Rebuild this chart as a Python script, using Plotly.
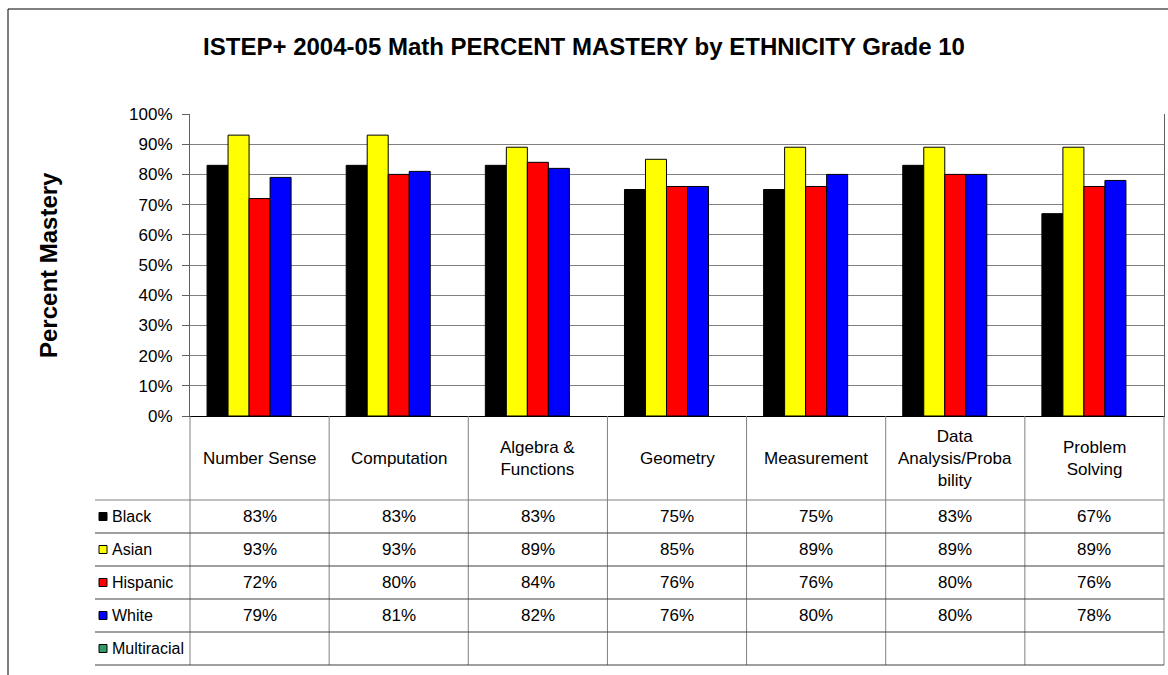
import plotly.graph_objects as go

# ISTEP+ 2004-05 grade 10 math, percent mastery by strand
categories = ["Number Sense", "Computation", "Algebra & Functions", "Geometry",
              "Measurement", "Data Analysis/Probability", "Problem Solving"]
header_labels = ["Number Sense", "Computation", "Algebra &<br>Functions", "Geometry",
                 "Measurement", "Data<br>Analysis/Proba<br>bility", "Problem<br>Solving"]
groups = ["Black", "Asian", "Hispanic", "White", "Multiracial"]
black = [83, 83, 83, 75, 75, 83, 67]
asian = [93, 93, 89, 85, 89, 89, 89]
hispanic = [72, 80, 84, 76, 76, 80, 76]
white = [79, 81, 82, 76, 80, 80, 78]
multiracial = [None] * 7
colors = ["#000000", "#FFFF00", "#FF0000", "#0000FF", "#339966"]

series = [black, asian, hispanic, white, multiracial]

W, H = 1168, 675
L, R, T, B = 190, 1164, 114, 416   # plot area in pixels
FONT = "Arial, Liberation Sans, sans-serif"


def px(x):
    return (x - L) / (R - L)


def py(y):
    return (B - y) / (B - T)


fig = go.Figure()
for name, vals, col in zip(groups, series, colors):
    fig.add_trace(go.Bar(
        x=categories, y=vals, name=name,
        marker=dict(color=col, line=dict(color="#000000", width=1)),
        showlegend=False
    ))

shapes = []
annotations = []

# data table under the plot
head_bottom = 500
row_h = 33
table_left = 95
table_bottom = head_bottom + row_h * len(groups)
n = len(categories)

for i in range(n + 1):
    shapes.append(dict(type="line", xref="paper", yref="paper",
                       x0=i / n, x1=i / n, y0=py(B), y1=py(table_bottom),
                       line=dict(color="#808080", width=1)))
for r in range(len(groups) + 1):
    yy = head_bottom + r * row_h
    shapes.append(dict(type="line", xref="paper", yref="paper",
                       x0=px(table_left), x1=1, y0=py(yy), y1=py(yy),
                       line=dict(color="#404040" if r else "#808080", width=1)))

for cat, lab in zip(categories, header_labels):
    annotations.append(dict(x=cat, xref="x", y=py((B + head_bottom) / 2), yref="paper",
                            text=lab, showarrow=False, align="center",
                            xanchor="center", yanchor="middle",
                            font=dict(family=FONT, size=17, color="#000000")))

for r, (name, vals, col) in enumerate(zip(groups, series, colors)):
    yc = head_bottom + r * row_h + row_h / 2
    shapes.append(dict(type="rect", xref="paper", yref="paper",
                       x0=px(table_left + 4), x1=px(table_left + 12),
                       y0=py(yc - 4), y1=py(yc + 4),
                       fillcolor=col, line=dict(color="#000000", width=1)))
    annotations.append(dict(x=px(table_left + 15), xref="paper", y=py(yc), yref="paper",
                            text=name, showarrow=False, xanchor="left", yanchor="middle",
                            font=dict(family=FONT, size=16, color="#000000")))
    for cat, v in zip(categories, vals):
        if v is None:
            continue
        annotations.append(dict(x=cat, xref="x", y=py(yc), yref="paper",
                                text=f"{v}%", showarrow=False,
                                xanchor="center", yanchor="middle",
                                font=dict(family=FONT, size=17, color="#000000")))

# y axis title
annotations.append(dict(x=px(48), xref="paper", y=py((T + B) / 2), yref="paper",
                        text="<b>Percent Mastery</b>", textangle=-90, showarrow=False,
                        xanchor="center", yanchor="middle",
                        font=dict(family=FONT, size=24, color="#000000")))

# outer chart border (runs off the bottom and right of the picture)
shapes.append(dict(type="rect", xref="paper", yref="paper",
                   x0=px(8), x1=px(1175), y0=py(9), y1=py(690),
                   line=dict(color="#000000", width=1)))

fig.update_layout(
    width=W, height=H,
    margin=dict(l=L, r=W - R, t=T, b=H - B, autoexpand=False),
    paper_bgcolor="white", plot_bgcolor="white",
    title=dict(text="<b>ISTEP+ 2004-05 Math PERCENT MASTERY by ETHNICITY Grade 10</b>",
               x=0.5, xanchor="center", y=1 - 47 / H, yanchor="middle",
               font=dict(family=FONT, size=24, color="#000000")),
    barmode="group", bargap=0.245, bargroupgap=0,
    xaxis=dict(showticklabels=False, showgrid=False, showline=True,
               linecolor="#000000", linewidth=1, ticks=""),
    yaxis=dict(range=[0, 100], dtick=10, ticksuffix="%", showgrid=True,
               gridcolor="#808080", gridwidth=1, showline=True, mirror=True,
               linecolor="#606060", linewidth=1, ticks="outside", ticklen=7,
               tickcolor="#606060", ticklabelstandoff=6, zeroline=False,
               tickfont=dict(family=FONT, size=17, color="#000000")),
    shapes=shapes,
    annotations=annotations,
)

# page body has a default margin; drop it so the figure sits at the window origin
fig.write_html("out.html", config={"displayModeBar": False},
               post_script="document.body.style.margin='0';")
